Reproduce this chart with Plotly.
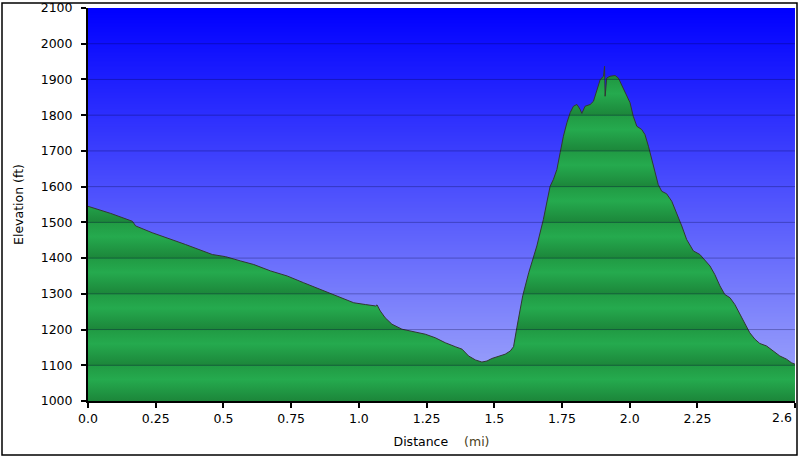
import base64, struct, zlib
import plotly.graph_objects as go

# ---- data ----
distance_mi = [0.0, 0.084, 0.164, 0.176, 0.237, 0.298, 0.360, 0.459, 0.508, 0.563, 0.612, 0.674,
               0.735, 0.796, 0.858, 0.920, 0.981, 1.024, 1.062, 1.067, 1.079, 1.097, 1.122, 1.159,
               1.208, 1.245, 1.282, 1.319, 1.356, 1.381, 1.405, 1.430, 1.454, 1.473, 1.491, 1.516,
               1.540, 1.559, 1.571, 1.583, 1.605, 1.627, 1.657, 1.681, 1.706, 1.718, 1.731, 1.743,
               1.755, 1.768, 1.780, 1.792, 1.805, 1.817, 1.823, 1.835, 1.854, 1.866, 1.878, 1.891,
               1.903, 1.907, 1.909, 1.915, 1.927, 1.946, 1.958, 1.970, 1.989, 2.001, 2.013, 2.026,
               2.044, 2.056, 2.069, 2.081, 2.093, 2.105, 2.118, 2.136, 2.155, 2.173, 2.192, 2.210,
               2.235, 2.259, 2.278, 2.296, 2.314, 2.333, 2.351, 2.370, 2.388, 2.407, 2.425, 2.443,
               2.462, 2.480, 2.505, 2.530, 2.554, 2.579, 2.597, 2.61]
elevation_ft = [1545, 1525, 1503, 1490, 1471, 1455, 1438, 1410, 1404, 1392, 1382, 1364,
                1350, 1331, 1312, 1294, 1275, 1270, 1266, 1269, 1252, 1233, 1215, 1201,
                1193, 1187, 1177, 1163, 1152, 1145, 1126, 1115, 1109, 1112, 1119, 1126,
                1131, 1140, 1152, 1205, 1295, 1359, 1434, 1508, 1601, 1620, 1648, 1695,
                1741, 1779, 1807, 1825, 1830, 1816, 1805, 1825, 1830, 1839, 1872, 1900,
                1909, 1937, 1853, 1904, 1909, 1911, 1904, 1886, 1853, 1835, 1797, 1769,
                1760, 1746, 1713, 1676, 1639, 1606, 1587, 1580, 1559, 1527, 1490, 1452,
                1420, 1410, 1392, 1378, 1354, 1322, 1298, 1289, 1270, 1243, 1219, 1191,
                1173, 1161, 1154, 1140, 1126, 1117, 1107, 1103]

x_tick_vals = [0.0, 0.25, 0.5, 0.75, 1.0, 1.25, 1.5, 1.75, 2.0, 2.25, 2.609]
x_tick_text = ["0.0", "0.25", "0.5", "0.75", "1.0", "1.25", "1.5", "1.75", "2.0", "2.25", ""]
x_end_label = "2.6"
y_tick_vals = [1000, 1100, 1200, 1300, 1400, 1500, 1600, 1700, 1800, 1900, 2000, 2100]

Y_MIN, Y_MAX = 1000, 2100
X_MAX = 2.61


def gradient_png(top, bot, h=256):
    """1-pixel-wide vertical gradient PNG as a data URI (background styling)."""
    raw = b""
    for i in range(h):
        f = i / (h - 1)
        c = bytes(round(top[j] + (bot[j] - top[j]) * f) for j in range(3))
        raw += b"\x00" + c
    def chunk(t, d):
        return struct.pack(">I", len(d)) + t + d + struct.pack(">I", zlib.crc32(t + d) & 0xffffffff)
    png = b"\x89PNG\r\n\x1a\n" + chunk(b"IHDR", struct.pack(">IIBBBBB", 1, h, 8, 2, 0, 0, 0))
    png += chunk(b"IDAT", zlib.compress(raw)) + chunk(b"IEND", b"")
    return "data:image/png;base64," + base64.b64encode(png).decode()


# ---- banded green gradient for the area fill ----
dark, bright, mid = "rgb(28,134,58)", "rgb(37,170,78)", "rgb(33,155,68)"
nb = (Y_MAX - Y_MIN) // 100
cs = []
for k in range(nb):
    a = k / nb
    b = (k + 1) / nb
    cs.append([a, dark])
    cs.append([a + 0.6 * (b - a), bright])
    cs.append([b - 0.002 if k < nb - 1 else b, mid])

fig = go.Figure()
fig.add_trace(go.Scatter(
    x=distance_mi, y=elevation_ft, mode="lines", fill="tozeroy",
    line=dict(color="rgb(50,55,50)", width=1),
    fillgradient=dict(type="vertical", colorscale=cs, start=Y_MIN, stop=Y_MAX),
    hoverinfo="skip", showlegend=False,
))

shapes = []
for v in y_tick_vals[1:-1]:
    shapes.append(dict(type="line", xref="x domain", yref="y", x0=0, x1=1, y0=v, y1=v,
                       line=dict(color="rgba(0,0,60,0.3)", width=1), layer="above"))
shapes.append(dict(type="rect", xref="paper", yref="paper",
                   x0=(2 - 88) / 707, x1=(797 - 88) / 707,
                   y0=(401 - 455) / 393, y1=(401 - 3) / 393,
                   line=dict(color="black", width=1.5), fillcolor="rgba(0,0,0,0)", layer="below"))

font = "DejaVu Sans, Verdana, sans-serif"
fig.update_layout(
    width=800, height=458,
    margin=dict(l=88, r=5, t=8, b=57, autoexpand=False),
    paper_bgcolor="white", plot_bgcolor="rgb(90,95,250)",
    font=dict(family=font, size=12.5, color="black"),
    shapes=shapes,
    annotations=[dict(text=x_end_label, x=X_MAX, xref="x", y=0, yref="paper",
                      xanchor="right", yanchor="top", xshift=-1, yshift=-7, showarrow=False,
                      font=dict(size=12.5, family=font, color="black"))],
    images=[dict(source=gradient_png((0, 0, 255), (165, 172, 250)), xref="paper", yref="paper",
                 x=0, y=1, sizex=1, sizey=1, xanchor="left", yanchor="top",
                 sizing="stretch", layer="below")],
    xaxis=dict(range=[0, X_MAX], tickvals=x_tick_vals, ticktext=x_tick_text, automargin=False,
               showgrid=False, zeroline=False, showline=True, linecolor="black", linewidth=2,
               ticks="outside", ticklen=5, tickwidth=2, tickcolor="black",
               tickfont=dict(size=12.5, family=font),
               title=dict(text="Distance&nbsp;&nbsp;&nbsp;&nbsp;<span style='color:#4a4020'>(mi)</span>",
                          font=dict(size=12.5, family=font), standoff=12)),
    yaxis=dict(range=[Y_MIN, Y_MAX], tickvals=y_tick_vals, automargin=False,
               ticklabeloverflow="allow",
               showgrid=False, zeroline=False, showline=True, linecolor="black", linewidth=2,
               ticks="outside", ticklen=5, tickwidth=2, tickcolor="black", ticklabelstandoff=6,
               tickfont=dict(size=12.5, family=font),
               title=dict(text="Elevation (ft)", font=dict(size=12.5, family=font), standoff=14)),
)

fig.write_html("out.html", config={"displayModeBar": False},
               post_script="document.body.style.margin='0';")
